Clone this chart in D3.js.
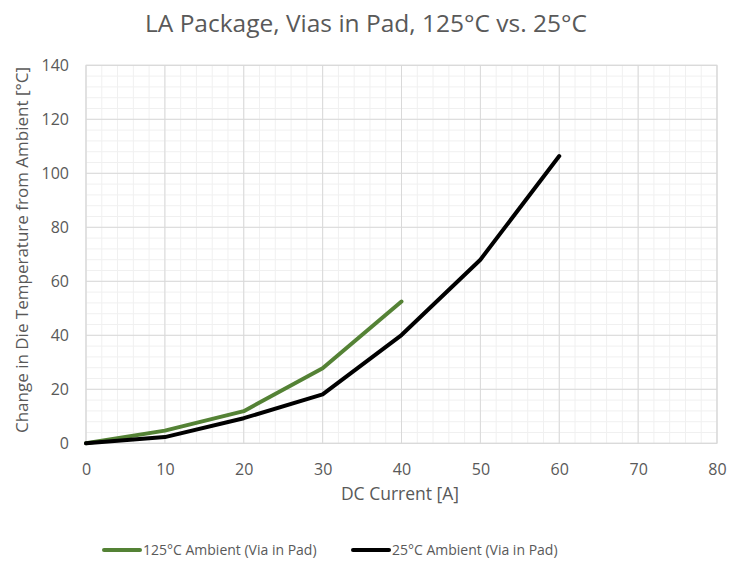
<!DOCTYPE html>
<html><head><meta charset="utf-8">
<script src="https://cdn.jsdelivr.net/npm/d3@7"></script>
<style>body{margin:0;background:#fff;} svg{display:block;font-family:"Open Sans",sans-serif;}</style>
</head><body>
<svg id="c" width="739" height="561"></svg>
<script>
const xCurrent = [0, 10, 20, 30, 40, 50, 60];
const hot125 = [0, 4.7, 11.9, 27.8, 52.5];
const amb25 = [0, 2.3, 9.3, 18.1, 40.1, 68, 106.4];
const xTicks = [0, 10, 20, 30, 40, 50, 60, 70, 80];
const yTicks = [0, 20, 40, 60, 80, 100, 120, 140];
const seriesNames = ["125°C Ambient (Via in Pad)", "25°C Ambient (Via in Pad)"];
const seriesColors = ["#548235", "#000000"];

const svg = d3.select("#c");
const L = 86, R = 717, T = 65.3, B = 443.3;
const x = d3.scaleLinear().domain([0, 80]).range([L, R]);
const y = d3.scaleLinear().domain([0, 140]).range([B, T]);
const txt = "#595959";

// minor grid
const g = svg.append("g");
g.selectAll(".mx").data(d3.range(0, 81, 2)).join("line")
  .attr("x1", d => x(d)).attr("x2", d => x(d)).attr("y1", T).attr("y2", B)
  .attr("stroke", "#f0f0f0").attr("stroke-width", 1);
g.selectAll(".my").data(d3.range(0, 141, 4)).join("line")
  .attr("y1", d => y(d)).attr("y2", d => y(d)).attr("x1", L).attr("x2", R)
  .attr("stroke", "#f0f0f0").attr("stroke-width", 1);
// major grid
g.selectAll(".Mx").data(xTicks).join("line")
  .attr("x1", d => x(d)).attr("x2", d => x(d)).attr("y1", T).attr("y2", B)
  .attr("stroke", "#d9d9d9").attr("stroke-width", 1);
g.selectAll(".My").data(yTicks).join("line")
  .attr("y1", d => y(d)).attr("y2", d => y(d)).attr("x1", L).attr("x2", R)
  .attr("stroke", "#d9d9d9").attr("stroke-width", 1);
g.append("rect").attr("x", L).attr("y", T).attr("width", R - L).attr("height", B - T)
  .attr("fill", "none").attr("stroke", "#d9d9d9");

// axes
const xa = svg.append("g").attr("transform", `translate(0,${B})`)
  .call(d3.axisBottom(x).tickValues(xTicks).tickSize(0).tickPadding(20));
xa.select(".domain").remove();
xa.selectAll("text").attr("fill", txt).style("font-size", "16px").style("font-family", "Open Sans");
const ya = svg.append("g").attr("transform", `translate(${L},0)`)
  .call(d3.axisLeft(y).tickValues(yTicks).tickSize(0).tickPadding(17));
ya.select(".domain").remove();
ya.selectAll("text").attr("fill", txt).style("font-size", "16px").style("font-family", "Open Sans");

// lines
const line = d3.line().x((d, i) => x(xCurrent[i])).y(d => y(d));
[hot125, amb25].forEach((s, k) => {
  svg.append("path").datum(s).attr("d", line).attr("fill", "none")
    .attr("stroke", seriesColors[k]).attr("stroke-width", 4)
    .attr("stroke-linejoin", "round").attr("stroke-linecap", "round");
});

// titles
svg.append("text").attr("x", 366).attr("y", 32).attr("text-anchor", "middle")
  .attr("fill", txt).style("font-size", "24.5px").text("LA Package, Vias in Pad, 125°C vs. 25°C");
svg.append("text").attr("x", 400).attr("y", 500).attr("text-anchor", "middle")
  .attr("fill", txt).style("font-size", "17.5px").text("DC Current [A]");
svg.append("text").attr("transform", `translate(28,250) rotate(-90)`).attr("text-anchor", "middle")
  .attr("fill", txt).style("font-size", "17px").text("Change in Die Temperature from Ambient [°C]");

// legend
const legX = [104, 353];
seriesNames.forEach((n, k) => {
  svg.append("line").attr("x1", legX[k]).attr("x2", legX[k] + 36).attr("y1", 550).attr("y2", 550)
    .attr("stroke", seriesColors[k]).attr("stroke-width", 4).attr("stroke-linecap", "round");
  svg.append("text").attr("x", legX[k] + 39).attr("y", 555).attr("fill", txt)
    .style("font-size", "14px").text(n);
});
</script>
</body></html>
